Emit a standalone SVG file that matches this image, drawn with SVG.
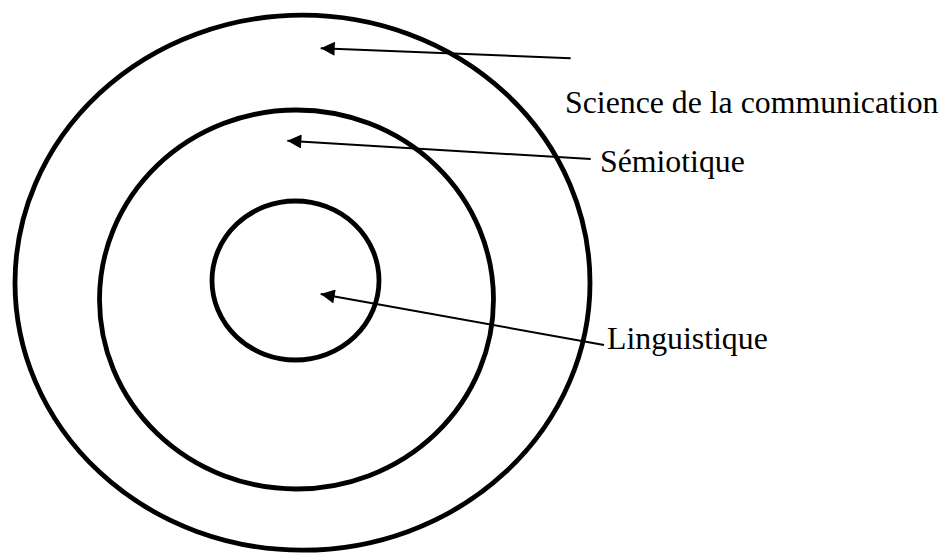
<svg xmlns="http://www.w3.org/2000/svg" width="944" height="554" viewBox="0 0 944 554">
<style>
.ring{fill:none;stroke:#000;stroke-width:4.8}
.conn{fill:none;stroke:#000;stroke-width:2;marker-end:url(#ah)}
.lbl{font-family:"Liberation Serif","Times New Roman",serif;font-size:31.8px;fill:#000}
</style>
<defs>
<marker id="ah" viewBox="0 0 10 10" refX="10" refY="5" markerWidth="7.5" markerHeight="7" markerUnits="strokeWidth" orient="auto">
<path d="M0,0 L10,5 L0,10 Z" fill="#000"/>
</marker>
</defs>
<rect width="944" height="554" fill="#fff"/>
<g id="outer"><ellipse class="ring" cx="302.5" cy="282.7" rx="287.5" ry="267.5"/></g>
<g id="middle"><ellipse class="ring" cx="296.5" cy="299.5" rx="197" ry="189.5"/></g>
<g id="inner"><ellipse class="ring" cx="295.5" cy="280.5" rx="83.5" ry="79.5"/></g>
<g id="connectors">
<line class="conn" x1="570.7" y1="58.3" x2="320.7" y2="48.3"/>
<line class="conn" x1="590.7" y1="159" x2="287.3" y2="140.7"/>
<line class="conn" x1="604" y1="345" x2="320.7" y2="294"/>
</g>
<g id="labels">
<text class="lbl" x="565" y="113">Science de la communication</text>
<text class="lbl" x="600" y="171.5">Sémiotique</text>
<text class="lbl" x="607" y="349">Linguistique</text>
</g>
</svg>
